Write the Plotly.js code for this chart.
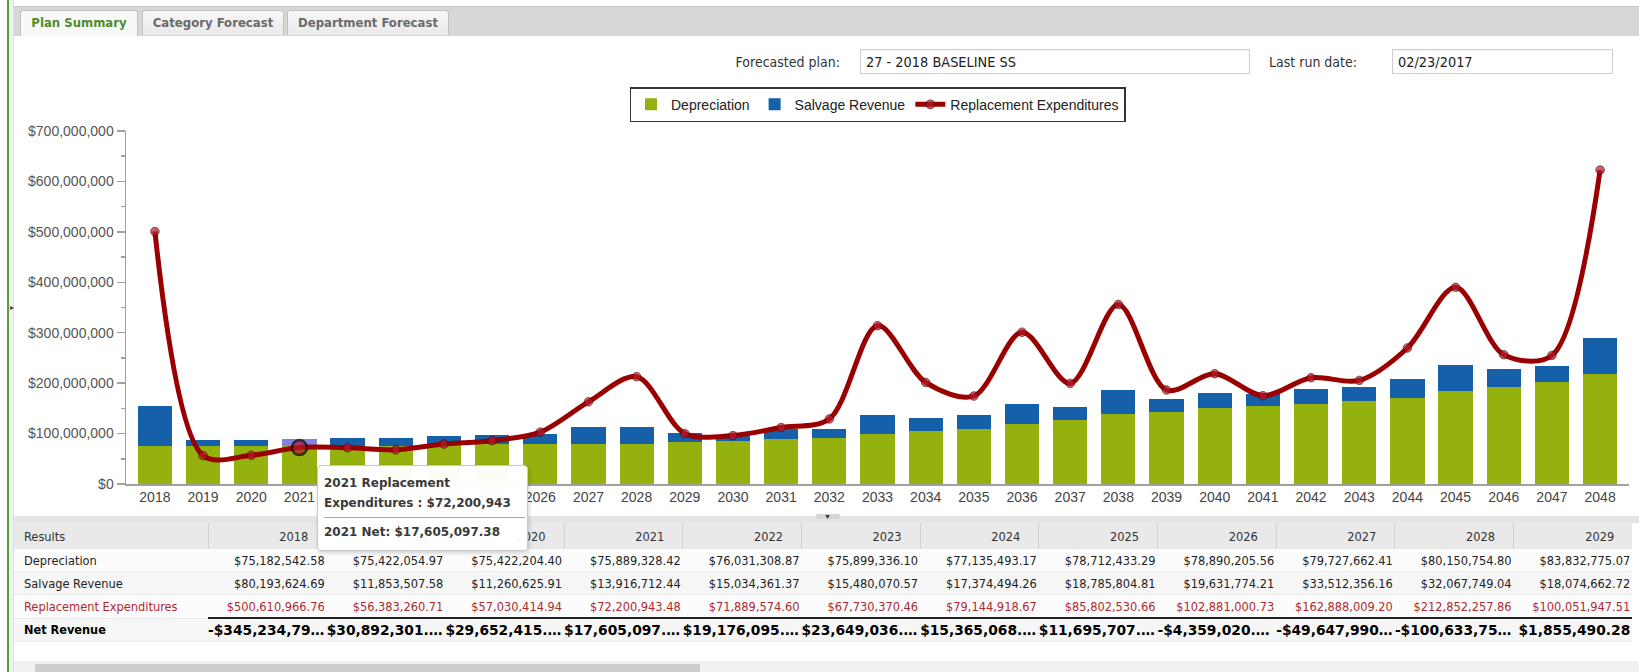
<!DOCTYPE html>
<html>
<head>
<meta charset="utf-8">
<script src="https://cdn.plot.ly/plotly-3.0.1.min.js"></script>
<style>
  html, body { margin:0; padding:0; }
  body { width:1639px; height:672px; position:relative; overflow:hidden; background:#fff; font-family:"Liberation Sans", Arial, sans-serif; }
  .abs { position:absolute; }
  .tab { position:absolute; top:10px; height:24px; border:1px solid #c2c2c2; border-bottom:none; border-radius:3px 3px 0 0;
         background:linear-gradient(#f7f7f7,#e9e9e9); font-family:"DejaVu Sans Condensed","DejaVu Sans",sans-serif; font-stretch:condensed;
         font-weight:bold; font-size:13px; color:#6a6a6a; line-height:24px; text-align:center; }
  .tab.active { background:#f8f8f8; color:#4c8c2c; height:25px; }
  .lbl { position:absolute; font-family:"DejaVu Sans Condensed","DejaVu Sans",sans-serif; font-stretch:condensed; font-size:14px; color:#333; line-height:20px; }
  .inp { position:absolute; border:1px solid #cfcfcf; background:#fff; box-shadow: inset 0 1px 2px rgba(0,0,0,0.06);
         font-family:"DejaVu Sans Condensed","DejaVu Sans",sans-serif; font-stretch:condensed; font-size:14.4px; color:#222; line-height:24px; padding-left:5px; box-sizing:border-box; height:25px; }
  #tbl { position:absolute; left:14px; top:523px; width:1618px; border-collapse:collapse; table-layout:fixed;
         font-family:"DejaVu Sans Condensed","DejaVu Sans",sans-serif; font-stretch:condensed; font-size:12.7px; color:#222; }
  #tbl td, #tbl th { padding:0; white-space:nowrap; overflow:hidden; text-overflow:ellipsis; }
  #tbl th { height:26px; background:#e9e9e9; font-weight:normal; color:#333; text-align:right; padding-right:18px; border-left:1px solid #d2d2d2; }
  #tbl th.first { text-align:left; padding-left:10px; border-left:none; }
  #tbl td { height:22px; text-align:right; padding-right:2px; border-bottom:1px solid #ececec; }
  #tbl td.first { text-align:left; padding-left:10px; }
  #tbl tr.r1 td { background:#fcfcfc; }
  #tbl tr.r2 td { background:#f6f6f6; }
  #tbl tr.r3 td { background:#fcfcfc; color:#ad2a2f; }
  #tbl tr.r4 td { background:#f6f6f6; font-weight:bold; color:#000; height:22px;
                  font-family:"DejaVu Sans",sans-serif; font-stretch:normal; font-size:13.8px; }
  #tbl tr.r4 td.first { font-family:"DejaVu Sans Condensed","DejaVu Sans",sans-serif; font-stretch:condensed; font-size:12.6px; }
  #tbl tr.r4 td.num { border-top:2px solid #222; }
  #tip { position:absolute; left:317px; top:465px; width:211px; height:86px; box-sizing:border-box; background:rgba(255,255,255,0.97);
         border:1px solid #c9c9c9; border-radius:4px; box-shadow:1px 2px 4px rgba(0,0,0,0.18);
         font-family:"DejaVu Sans",sans-serif; font-weight:bold; font-size:12px; color:#3a3a3a; padding:7px 0 0 6px; line-height:20px; z-index:5; }
  #tip hr { margin:4px 0 4px 0; width:201px; border:none; border-top:1px solid #a8a8a8; height:0; }
</style>
</head>
<body>
<!-- frame -->
<div class="abs" style="left:7px;top:0;width:2px;height:672px;background:#5b9b3b;"></div>
<div class="abs" style="left:9px;top:0;width:5px;height:672px;background:#f2f2f2;"></div>
<div class="abs" style="left:13px;top:0;width:1px;height:672px;background:#dcdcdc;"></div>
<div class="abs" style="left:10px;top:304px;font-size:8px;color:#444;line-height:8px;">&#9656;</div>
<div class="abs" style="left:14px;top:6px;width:1625px;height:29px;background:#d7d7d7;border-top:1px solid #c6c6c6;"></div>
<div class="tab active" style="left:20px;width:116px;">Plan Summary</div>
<div class="tab" style="left:142px;width:140px;">Category Forecast</div>
<div class="tab" style="left:287px;width:160px;">Department Forecast</div>

<!-- form row -->
<div class="lbl" style="left:680px;top:52px;width:160px;text-align:right;">Forecasted plan:</div>
<div class="inp" style="left:860px;top:49px;width:390px;">27 - 2018 BASELINE SS</div>
<div class="lbl" style="left:1269px;top:52px;width:110px;">Last run date:</div>
<div class="inp" style="left:1392px;top:49px;width:221px;">02/23/2017</div>

<div id="chart" class="abs" style="left:0;top:40px;width:1639px;height:475px;"></div>

<!-- splitter -->
<div class="abs" style="left:14px;top:516px;width:1625px;height:7px;background:#e4e4e4;"></div>
<div class="abs" style="left:816px;top:514px;width:24px;height:5px;background:#d6d6d6;border-radius:2px;"></div>
<div class="abs" style="left:824px;top:513px;font-size:7px;color:#333;line-height:7px;">&#9660;</div>

<table id="tbl"></table>

<!-- scrollbar -->
<div class="abs" style="left:14px;top:661px;width:1625px;height:11px;background:#f1f1f1;"></div>
<div class="abs" style="left:35px;top:664px;width:665px;height:8px;background:#cdcdcd;"></div>

<div id="tip"></div>

<script>
// ---------- data ----------
const years = ['2018','2019','2020','2021','2022','2023','2024','2025','2026','2027','2028','2029','2030','2031','2032','2033','2034','2035','2036','2037','2038','2039','2040','2041','2042','2043','2044','2045','2046','2047','2048'];
const depreciation = [75182542.58, 75422054.97, 75422204.40, 75889328.42, 76031308.87, 75899336.10, 77135493.17, 78712433.29, 78890205.56, 79727662.41, 80150754.80, 83832775.07,
  84.5e6, 88.5e6, 91.0e6, 98.4e6, 105.7e6, 109.7e6, 119.6e6, 126.0e6, 138.8e6, 142.8e6, 150.0e6, 154.6e6, 159.2e6, 163.8e6, 171.1e6, 185.0e6, 192.3e6, 201.5e6, 218.1e6];
const salvage = [80193624.69, 11853507.58, 11260625.91, 13916712.44, 15034361.37, 15480070.57, 17374494.26, 18785804.81, 19631774.21, 33512356.16, 32067749.04, 18074662.72,
  12.0e6, 19.8e6, 19.0e6, 37.7e6, 25.8e6, 26.3e6, 39.6e6, 26.4e6, 46.8e6, 26.0e6, 30.4e6, 24.0e6, 29.2e6, 29.1e6, 37.7e6, 51.6e6, 35.7e6, 33.1e6, 71.4e6];
const replacement = [500610966.76, 56383260.71, 57030414.94, 72200943.48, 71889574.60, 67730370.46, 79144918.67, 85802530.66, 102881000.73, 162888009.20, 212852257.86, 100051947.51,
  96.0e6, 112.0e6, 129.0e6, 314.0e6, 201.5e6, 174.5e6, 301.0e6, 199.5e6, 356.0e6, 186.4e6, 218.7e6, 175.0e6, 210.8e6, 205.4e6, 269.7e6, 390.0e6, 256.4e6, 255.0e6, 622.6e6];
const yTickVals = [0, 100e6, 200e6, 300e6, 400e6, 500e6, 600e6, 700e6];
const tableYearCount = 12;
const hoverIdx = 3;
const seriesNames = ['Depreciation', 'Salvage Revenue', 'Replacement Expenditures'];
const tableRowNames = ['Depreciation', 'Salvage Revenue', 'Replacement Expenditures', 'Net Revenue'];

// ---------- helpers ----------
const net = years.map((_, i) => depreciation[i] + salvage[i] - replacement[i]);
function money(v, dec) {
  const s = Math.abs(v).toLocaleString('en-US', {minimumFractionDigits: dec, maximumFractionDigits: dec});
  return (v < 0 ? '-$' : '$') + s;
}

// ---------- chart ----------
const GREEN = '#95b10d', BLUE = '#1560a8', HOVERBLUE = '#8183dc', LINE = '#9a0000', MARK = '#b81a2c';
const salvColors = years.map((_, i) => i === hoverIdx ? HOVERBLUE : BLUE);
const mSize = years.map((_, i) => i === hoverIdx ? 15 : 8.5);
const mLineW = years.map((_, i) => i === hoverIdx ? 2.5 : 1);
const mLineC = years.map((_, i) => i === hoverIdx ? '#000000' : '#4a0000');

const traces = [
  { type:'bar', name:seriesNames[0], x:years, y:depreciation, marker:{color:GREEN}, hoverinfo:'skip' },
  { type:'bar', name:seriesNames[1], x:years, y:salvage, marker:{color:salvColors}, hoverinfo:'skip' },
  { type:'scatter', mode:'lines+markers', name:seriesNames[2], x:years, y:replacement,
    line:{color:LINE, width:5, shape:'spline', smoothing:0.9},
    marker:{color:MARK, size:mSize, line:{color:mLineC, width:mLineW}}, hoverinfo:'skip' }
];

const layout = {
  width:1639, height:475,
  margin:{l:126, r:10, t:91, b:31},
  paper_bgcolor:'rgba(0,0,0,0)', plot_bgcolor:'rgba(0,0,0,0)',
  barmode:'stack', bargap:0.29,
  font:{family:'"Liberation Sans", Arial, sans-serif', size:14, color:'#333'},
  showlegend:true,
  legend:{orientation:'h', x:0.5, xanchor:'center', y:1.124, yanchor:'top', traceorder:'normal',
          bgcolor:'#ffffff', bordercolor:'#333333', borderwidth:1.5,
          font:{family:'"Liberation Sans", Arial, sans-serif', size:14, color:'#222'}},
  xaxis:{type:'category', range:[-0.6, years.length - 0.4], showline:true, linecolor:'#a0a0a0', linewidth:1.5,
         ticks:'', showgrid:false, zeroline:false, tickfont:{size:14, color:'#444'}, fixedrange:true},
  yaxis:{range:[0, 700e6], tickmode:'array', tickvals:yTickVals, ticktext:yTickVals.map(v => money(v, 0)),
         showline:true, linecolor:'#a0a0a0', linewidth:1.5,
         ticks:'outside', ticklen:8, tickcolor:'#a0a0a0', tickwidth:1.5, showgrid:false, zeroline:false,
         minor:{dtick:50e6, ticks:'outside', ticklen:4, tickcolor:'#a0a0a0', tickwidth:1.5, showgrid:false},
         tickfont:{size:14, color:'#555'}, fixedrange:true}
};
Plotly.newPlot('chart', traces, layout, {displayModeBar:false, staticPlot:true});

// ---------- table ----------
(function buildTable(){
  const tbl = document.getElementById('tbl');
  let colg = '<colgroup><col style="width:194px">';
  for (let i = 0; i < tableYearCount; i++) colg += '<col style="width:118.7px">';
  colg += '</colgroup>';
  let html = colg + '<tr><th class="first">Results</th>';
  for (let i = 0; i < tableYearCount; i++) html += '<th>' + years[i] + '</th>';
  html += '</tr>';
  const rows = [depreciation, salvage, replacement, net];
  rows.forEach((arr, r) => {
    html += '<tr class="r' + (r + 1) + '"><td class="first">' + tableRowNames[r] + '</td>';
    for (let i = 0; i < tableYearCount; i++) html += '<td class="num">' + money(arr[i], 2) + '</td>';
    html += '</tr>';
  });
  tbl.innerHTML = html;
})();

// ---------- tooltip (hover state of the reference) ----------
document.getElementById('tip').innerHTML =
  years[hoverIdx] + ' Replacement<br>Expenditures : ' + money(Math.round(replacement[hoverIdx]), 0) +
  '<hr>' + years[hoverIdx] + ' Net: ' + money(net[hoverIdx], 2);
</script>
</body>
</html>
